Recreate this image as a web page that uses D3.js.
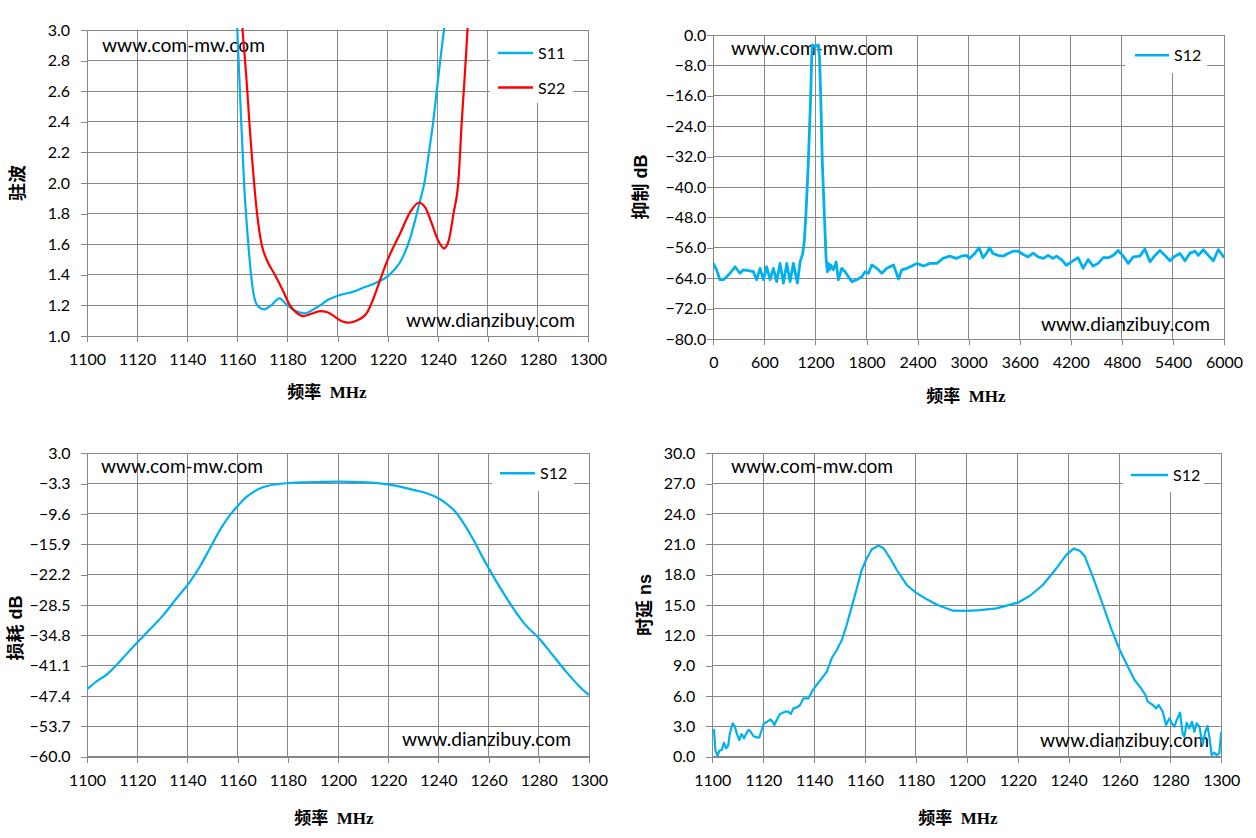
<!DOCTYPE html>
<html>
<head>
<meta charset="utf-8">
<script src="https://cdn.jsdelivr.net/npm/d3@7/dist/d3.min.js"></script>
<style>
  html, body { margin: 0; padding: 0; background: #fff; }
  svg { display: block; }
</style>
</head>
<body>
<svg id="chart" width="1256" height="838"></svg>
<script>
// ---------------- DATA ----------------
const freqTicks = [1100, 1120, 1140, 1160, 1180, 1200, 1220, 1240, 1260, 1280, 1300];
const vswrTicks = [1.0, 1.2, 1.4, 1.6, 1.8, 2.0, 2.2, 2.4, 2.6, 2.8, 3.0];
const wideFreqTicks = [0, 600, 1200, 1800, 2400, 3000, 3600, 4200, 4800, 5400, 6000];
const rejTicks = [0, -8, -16, -24, -32, -40, -48, -56, -64, -72, -80];
const lossTicks = [3.0, -3.3, -9.6, -15.9, -22.2, -28.5, -34.8, -41.1, -47.4, -53.7, -60.0];
const delayTicks = [0, 3, 6, 9, 12, 15, 18, 21, 24, 27, 30];

// S11 VSWR
const s11Freq = [1158.5, 1160, 1161.3, 1162.7, 1164.4, 1165.5, 1166.8, 1168.5, 1170.8, 1173.5, 1176.8, 1180, 1183, 1187, 1190, 1193, 1196, 1200, 1206.3, 1211, 1215.6, 1220, 1222.5, 1224.9, 1227, 1229, 1231.2, 1232.7, 1234.9, 1236.5, 1238.2, 1239.6, 1241.0, 1242.5, 1244.5];
const s11Vswr = [3.55, 3.0, 2.5, 2.0, 1.6, 1.4, 1.25, 1.19, 1.174, 1.2, 1.246, 1.2, 1.165, 1.148, 1.17, 1.2, 1.235, 1.263, 1.29, 1.32, 1.35, 1.39, 1.43, 1.48, 1.55, 1.64, 1.77, 1.867, 2.02, 2.2, 2.4, 2.6, 2.8, 3.0, 3.3];
// S22 VSWR
const s22Freq = [1160.8, 1162.1, 1163.1, 1164.0, 1164.8, 1165.7, 1166.7, 1167.9, 1169.7, 1171.7, 1175, 1178.1, 1181, 1183.5, 1186.3, 1189.5, 1193, 1196, 1199, 1202, 1204.7, 1207.5, 1211.6, 1214, 1217, 1220, 1225, 1229, 1232.5, 1235, 1237.6, 1240, 1242.5, 1244.5, 1246.3, 1248.3, 1249.6, 1250.8, 1251.9, 1253.5];
const s22Vswr = [3.4, 3.0, 2.8, 2.6, 2.4, 2.2, 2.0, 1.8, 1.6, 1.5, 1.4, 1.3, 1.2, 1.155, 1.13, 1.145, 1.163, 1.155, 1.125, 1.095, 1.087, 1.1, 1.148, 1.23, 1.366, 1.497, 1.67, 1.81, 1.871, 1.84, 1.737, 1.63, 1.573, 1.63, 1.8, 2.02, 2.4, 2.7, 3.0, 3.5];

// S12 rejection (wideband)
const rejFreq = [0, 39, 78, 118, 157, 196, 255, 314, 353, 412, 471, 510, 549, 588, 627, 667, 706, 745, 784, 824, 863, 902, 941, 988, 1020, 1051, 1070, 1089, 1116, 1144, 1156, 1165, 1200, 1235, 1248, 1262, 1281, 1304, 1324, 1340, 1352, 1365, 1380, 1411, 1443, 1470, 1509, 1548, 1588, 1627, 1686, 1745, 1784, 1823, 1862, 1921, 1980, 2039, 2117, 2176, 2215, 2274, 2333, 2392, 2470, 2548, 2627, 2698, 2777, 2855, 2914, 2973, 3012, 3071, 3122, 3169, 3208, 3247, 3286, 3345, 3404, 3463, 3522, 3580, 3639, 3698, 3757, 3816, 3875, 3934, 3992, 4032, 4090, 4149, 4208, 4286, 4345, 4404, 4463, 4522, 4581, 4640, 4698, 4757, 4816, 4875, 4934, 5012, 5071, 5130, 5189, 5247, 5306, 5365, 5424, 5483, 5541, 5600, 5659, 5698, 5757, 5816, 5875, 5933, 5973, 6000];
const rejDb = [-60.1, -61.8, -64.4, -64.4, -63.6, -62.7, -61.0, -62.7, -61.8, -62.0, -62.3, -64.4, -61.4, -64.4, -61.0, -64.4, -61.4, -64.9, -60.1, -65.3, -60.1, -64.9, -60.1, -65.3, -59.7, -57.5, -54.0, -46.9, -33.7, -16.2, -6.0, -2.6, -3.0, -2.6, -6.0, -16.2, -33.7, -46.9, -58.3, -62.3, -60.1, -61.8, -60.5, -61.8, -59.7, -64.4, -61.4, -62.3, -63.6, -64.9, -64.4, -63.6, -62.3, -62.7, -60.5, -61.4, -62.7, -61.4, -60.5, -64.2, -61.8, -61.4, -60.8, -60.1, -60.8, -60.1, -60.1, -58.8, -58.2, -58.8, -58.2, -58.0, -58.8, -57.5, -56.0, -58.6, -57.5, -56.0, -57.5, -58.0, -58.2, -57.5, -56.9, -56.9, -57.7, -58.4, -57.4, -58.4, -58.8, -58.0, -58.8, -58.2, -59.1, -60.6, -59.7, -58.6, -61.4, -59.1, -60.8, -60.1, -58.6, -58.6, -58.0, -56.7, -58.2, -60.1, -58.4, -58.2, -56.3, -59.7, -58.0, -56.7, -58.0, -59.4, -58.2, -57.5, -59.4, -57.4, -56.9, -58.0, -56.5, -58.0, -59.4, -56.5, -57.7, -58.6];

// S12 insertion loss
const lossFreq = [1100, 1103.7, 1107.7, 1111.7, 1115.7, 1120, 1125, 1130.4, 1135.7, 1140.4, 1145, 1149, 1153, 1157, 1160.1, 1163.7, 1167.7, 1171.7, 1176, 1180, 1186, 1193, 1200, 1211.3, 1220, 1230, 1235.3, 1240, 1243.3, 1246.7, 1250, 1254, 1257.3, 1260.4, 1264.7, 1269.3, 1274, 1280.4, 1286, 1291.3, 1296, 1300];
const lossDb = [-46.0, -44.4, -43.0, -41.0, -38.7, -36.3, -33.6, -30.6, -27.1, -24.1, -20.5, -16.7, -12.9, -9.8, -7.9, -6.0, -4.6, -3.8, -3.4, -3.2, -3.02, -2.95, -2.9, -3.02, -3.44, -4.6, -5.3, -6.35, -7.5, -9.1, -11.5, -15.0, -18.3, -21.2, -25.0, -28.8, -32.2, -35.6, -39.2, -42.6, -45.3, -47.2];

// S12 group delay
const delayFreq = [1100, 1100.7, 1101.2, 1102, 1102.8, 1103.7, 1104.6, 1105.4, 1106.2, 1106.9, 1108, 1108.9, 1109.6, 1110.6, 1111.5, 1112.5, 1113.2, 1114.2, 1115.1, 1116.1, 1117.4, 1118.5, 1119.4, 1120.3, 1121.6, 1122.9, 1123.7, 1124.4, 1125.3, 1126.6, 1128.6, 1129.9, 1130.8, 1131.9, 1133.2, 1134.5, 1135.8, 1137.8, 1139.5, 1141, 1143, 1145, 1146.9, 1148.9, 1150.9, 1152.8, 1154.8, 1156.8, 1158.7, 1160.7, 1162.7, 1165.3, 1167.3, 1169.9, 1172.5, 1176.4, 1180, 1184.3, 1188.5, 1194.6, 1200, 1205.1, 1211.6, 1220, 1224.7, 1229.9, 1235.2, 1239.1, 1242, 1244.3, 1246.3, 1249.5, 1253.5, 1256.7, 1260.1, 1263.3, 1265.9, 1268.5, 1270.2, 1271.1, 1273.1, 1274.4, 1275.4, 1277, 1278.3, 1279.6, 1280.6, 1281.6, 1282.5, 1283.8, 1284.8, 1285.5, 1286.4, 1287.4, 1288.5, 1289.4, 1290.3, 1291.4, 1292.7, 1293.7, 1294.6, 1295.3, 1296.2, 1297.2, 1298.2, 1299.2, 1300];
const delayNs = [2.47, 2.64, 0.66, 0.07, 0.6, 0.66, 1.38, 0.82, 1.06, 2.3, 3.3, 2.97, 2.3, 1.65, 2.24, 1.81, 2.24, 2.64, 2.47, 2.04, 1.91, 1.91, 2.64, 3.3, 3.46, 3.69, 3.46, 3.13, 3.63, 4.22, 4.45, 4.45, 4.22, 4.78, 4.88, 5.11, 5.77, 5.77, 6.59, 7.09, 7.75, 8.41, 9.73, 10.55, 11.54, 13.02, 14.84, 16.65, 18.46, 19.62, 20.51, 20.87, 20.61, 19.62, 18.46, 16.98, 16.22, 15.56, 15.0, 14.44, 14.41, 14.5, 14.67, 15.23, 15.89, 16.98, 18.63, 19.95, 20.57, 20.38, 19.85, 17.8, 15.0, 12.69, 10.55, 8.9, 7.58, 6.76, 6.1, 5.44, 5.11, 4.78, 5.11, 4.45, 3.13, 3.79, 3.3, 2.97, 3.63, 4.35, 2.3, 1.98, 3.36, 2.8, 3.46, 2.47, 3.3, 2.97, 1.15, 2.47, 3.03, 1.98, 0.16, 0.4, 0.16, 0.33, 2.47];

// ---------------- DRAWING ----------------
const svg = d3.select('#chart');
svg.append('rect').attr('width', 1256).attr('height', 838).attr('fill', '#fff');

const GRID = '#878787';
const BLUE = '#00B0F0';
const RED = '#FF0000';
const TICKFONT = 'Lato, "Open Sans", sans-serif';

function zip(xs, ys) { return xs.map((v, i) => [v, ys[i]]); }

function drawPanel(cfg, idx) {
  const g = svg.append('g');
  const x = d3.scaleLinear().domain(cfg.xDomain).range([cfg.x0, cfg.x1]);
  const y = d3.scaleLinear().domain(cfg.yDomain).range([cfg.y1, cfg.y0]);

  // grid
  const grid = g.append('g').attr('shape-rendering', 'crispEdges');
  grid.selectAll('line.h').data(cfg.yTicks).join('line')
    .attr('x1', cfg.x0).attr('x2', cfg.x1)
    .attr('y1', d => y(d)).attr('y2', d => y(d))
    .attr('stroke', GRID).attr('stroke-width', 1);
  grid.selectAll('line.v').data(cfg.xTicks).join('line')
    .attr('y1', cfg.y0).attr('y2', cfg.y1)
    .attr('x1', d => x(d)).attr('x2', d => x(d))
    .attr('stroke', GRID).attr('stroke-width', 1);

  // axes
  const ax = g.append('g').attr('transform', `translate(0,${cfg.y1})`)
    .call(d3.axisBottom(x).tickValues(cfg.xTicks).tickSize(6).tickSizeOuter(0)
      .tickPadding(cfg.xPad).tickFormat(d3.format('d')));
  const ay = g.append('g').attr('transform', `translate(${cfg.x0},0)`)
    .call(d3.axisLeft(y).tickValues(cfg.yTicks).tickSize(6).tickSizeOuter(0)
      .tickPadding(cfg.yPad).tickFormat(d3.format('.1f')));
  [ax, ay].forEach(a => {
    a.attr('shape-rendering', 'crispEdges');
    a.select('.domain').attr('stroke', GRID);
    a.selectAll('.tick line').attr('stroke', GRID);
    a.selectAll('.tick text').attr('fill', '#000')
      .style('font-family', TICKFONT).style('font-size', '16px');
  });

  // clip
  const clipId = 'clip' + idx;
  svg.append('clipPath').attr('id', clipId).append('rect')
    .attr('x', cfg.x0).attr('y', cfg.y0 - 2)
    .attr('width', cfg.x1 - cfg.x0).attr('height', cfg.y1 - cfg.y0 + 3);

  // watermarks
  cfg.marks.forEach(m => {
    g.append('text').attr('x', m.x).attr('y', m.y)
      .attr('textLength', m.w).attr('lengthAdjust', 'spacingAndGlyphs')
      .style('font-family', TICKFONT).style('font-size', '19px').attr('fill', '#000')
      .text(m.t);
  });

  // series
  const line = d3.line().x(d => x(d[0])).y(d => y(d[1])).curve(cfg.curve);
  cfg.series.forEach(s => {
    g.append('path').datum(s.data)
      .attr('clip-path', `url(#${clipId})`)
      .attr('fill', 'none').attr('stroke', s.color)
      .attr('stroke-width', s.width).attr('stroke-linejoin', 'round')
      .attr('d', line);
  });

  // legend
  const L = cfg.legend;
  g.append('rect').attr('x', L.x).attr('y', L.y).attr('width', L.w).attr('height', L.h).attr('fill', '#fff');
  cfg.series.forEach((s, i) => {
    const ly = L.rows[i];
    g.append('line').attr('x1', L.lx1).attr('x2', L.lx2).attr('y1', ly).attr('y2', ly)
      .attr('stroke', s.color).attr('stroke-width', 2.5);
    g.append('text').attr('x', L.lx2 + 5).attr('y', ly + 6)
      .style('font-family', TICKFONT).style('font-size', '16px').attr('fill', '#000')
      .text(s.name);
  });

  // axis titles
  g.append('text')
    .attr('transform', `translate(${cfg.yTitle.x},${cfg.yTitle.y}) rotate(-90)`)
    .attr('text-anchor', 'middle').attr('dominant-baseline', 'central')
    .style('font-family', '"Liberation Sans", "Noto Sans CJK SC", sans-serif')
    .style('font-weight', 'bold').style('font-size', '18px').attr('fill', '#000')
    .text(cfg.yTitle.t);
  g.append('text')
    .attr('x', cfg.xTitle.x).attr('y', cfg.xTitle.y)
    .attr('text-anchor', 'middle').attr('dominant-baseline', 'central')
    .style('font-family', '"Liberation Serif", "Noto Sans CJK SC", serif')
    .style('font-weight', 'bold').style('font-size', '17px').attr('fill', '#000')
    .attr('xml:space', 'preserve')
    .text('频率  MHz');
}

const panels = [
  {
    x0: 87, x1: 588, y0: 30, y1: 336, xDomain: [1100, 1300], yDomain: [1, 3],
    xTicks: freqTicks, yTicks: vswrTicks, xPad: 12, yPad: 11, curve: d3.curveMonotoneX,
    series: [
      { name: 'S11', data: zip(s11Freq, s11Vswr), color: BLUE, width: 2.2 },
      { name: 'S22', data: zip(s22Freq, s22Vswr), color: RED, width: 2.2 }
    ],
    legend: { x: 490, y: 31, w: 83, h: 72, lx1: 498, lx2: 533, rows: [53, 87.5] },
    marks: [
      { t: 'www.com-mw.com', x: 102, y: 52, w: 163 },
      { t: 'www.dianzibuy.com', x: 406, y: 327, w: 169 }
    ],
    yTitle: { t: '驻波', x: 18, y: 183 },
    xTitle: { x: 327, y: 392 }
  },
  {
    x0: 713.3, x1: 1224, y0: 35, y1: 339, xDomain: [0, 6000], yDomain: [-80, 0],
    xTicks: wideFreqTicks, yTicks: rejTicks, xPad: 12, yPad: 1, curve: d3.curveLinear,
    series: [
      { name: 'S12', data: zip(rejFreq, rejDb), color: BLUE, width: 2.8 }
    ],
    legend: { x: 1125, y: 36, w: 82, h: 37, lx1: 1135, lx2: 1169, rows: [55.3] },
    marks: [
      { t: 'www.com-mw.com', x: 731, y: 54.5, w: 162 },
      { t: 'www.dianzibuy.com', x: 1041, y: 331, w: 169 }
    ],
    yTitle: { t: '抑制 dB', x: 641, y: 187 },
    xTitle: { x: 966, y: 396 }
  },
  {
    x0: 87, x1: 589, y0: 453.3, y1: 756.7, xDomain: [1100, 1300], yDomain: [-60, 3],
    xTicks: freqTicks, yTicks: lossTicks, xPad: 11.5, yPad: 10.5, curve: d3.curveMonotoneX,
    series: [
      { name: 'S12', data: zip(lossFreq, lossDb), color: BLUE, width: 2.2 }
    ],
    legend: { x: 492, y: 454, w: 82, h: 37, lx1: 500, lx2: 535, rows: [473.3] },
    marks: [
      { t: 'www.com-mw.com', x: 101, y: 472.7, w: 162 },
      { t: 'www.dianzibuy.com', x: 402, y: 746, w: 169 }
    ],
    yTitle: { t: '损耗 dB', x: 16, y: 628 },
    xTitle: { x: 334, y: 818 }
  },
  {
    x0: 712.3, x1: 1221.3, y0: 453.3, y1: 756.7, xDomain: [1100, 1300], yDomain: [0, 30],
    xTicks: freqTicks, yTicks: delayTicks, xPad: 11.5, yPad: 11, curve: d3.curveLinear,
    series: [
      { name: 'S12', data: zip(delayFreq, delayNs), color: BLUE, width: 2.2 }
    ],
    legend: { x: 1123, y: 454, w: 81, h: 38, lx1: 1131, lx2: 1168, rows: [475] },
    marks: [
      { t: 'www.com-mw.com', x: 731, y: 472.7, w: 162 },
      { t: 'www.dianzibuy.com', x: 1040, y: 746.7, w: 169 }
    ],
    yTitle: { t: '时延 ns', x: 645, y: 605 },
    xTitle: { x: 958, y: 818 }
  }
];

panels.forEach((p, i) => drawPanel(p, i));
</script>
</body>
</html>
